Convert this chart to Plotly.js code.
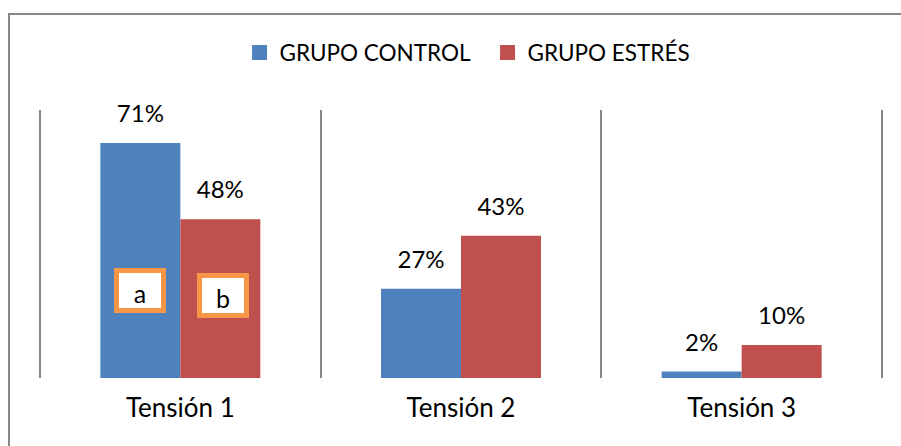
<!DOCTYPE html>
<html>
<head>
<meta charset="utf-8">
<script src="https://cdn.plot.ly/plotly-3.0.1.min.js"></script>
<style>
  html, body { margin: 0; padding: 0; background: #fff; overflow: hidden; width: 901px; height: 446px; }
  #frame { position: absolute; left: 8px; top: 13px; width: 1000px; height: 600px; border: 2px solid #878787; box-sizing: border-box; }
  #chart { position: absolute; left: 0; top: 0; width: 901px; height: 446px; }
</style>
</head>
<body>
<div id="frame"></div>
<div id="chart"></div>
<script>
const categories = ['Tensión 1', 'Tensión 2', 'Tensión 3'];
const seriesNames = ['GRUPO CONTROL', 'GRUPO ESTRÉS'];
const controlValues = [71, 27, 2];
const stressValues = [48, 43, 10];
const seriesColors = ['#4F81BD', '#C0504D'];
const boxLabels = ['a', 'b'];

const FONT = 'Lato, "Noto Sans", sans-serif';
const GAP = 0.43;

const seriesValues = [controlValues, stressValues];
const traces = [];
seriesValues.forEach((vals, i) => {
  traces.push({
    type: 'bar', name: seriesNames[i], x: categories, y: vals,
    marker: { color: seriesColors[i] }, hoverinfo: 'skip', showlegend: false
  });
});
seriesValues.forEach((vals, i) => {
  traces.push({
    type: 'scatter', mode: 'markers+text', x: categories, y: vals,
    text: vals.map(v => v + '%'), textposition: 'top center',
    textfont: { family: FONT, size: 24, color: '#000' },
    marker: { size: 22, opacity: 0, color: seriesColors[i] },
    showlegend: false, hoverinfo: 'skip', cliponaxis: false
  });
});
// legend entries (square swatches) on a hidden separate axis pair
seriesNames.forEach((name, i) => {
  traces.push({
    type: 'scatter', mode: 'markers', name: name, x: [null], y: [null],
    xaxis: 'x2', yaxis: 'y2',
    marker: { symbol: 'square', size: 15, color: seriesColors[i] },
    showlegend: true, hoverinfo: 'skip'
  });
});

const annotations = [
  { text: boxLabels[0], xref: 'paper', yref: 'paper', x: 0.119, y: 0.328 },
  { text: boxLabels[1], xref: 'paper', yref: 'paper', x: 0.217, y: 0.306 }
].map(a => Object.assign(a, {
  showarrow: false, xanchor: 'center', yanchor: 'middle',
  width: 42, height: 35, valign: 'bottom', align: 'center',
  bgcolor: '#ffffff', bordercolor: '#F79646', borderwidth: 5, borderpad: 0,
  font: { family: FONT, size: 25, color: '#000' }
}));

const hiddenAxis = { visible: false, showgrid: false, zeroline: false, fixedrange: true };

const layout = {
  width: 901, height: 446,
  margin: { l: 40, r: 19, t: 110, b: 68, pad: 0 },
  paper_bgcolor: 'rgba(0,0,0,0)', plot_bgcolor: 'rgba(0,0,0,0)',
  barmode: 'group', bargap: GAP, bargroupgap: 0,
  scattermode: 'group', scattergap: GAP,
  font: { family: FONT, size: 23, color: '#000' },
  showlegend: true,
  legend: {
    orientation: 'h', x: 0.237, xanchor: 'left', y: 1.213, yanchor: 'middle',
    font: { family: FONT, size: 22.5, color: '#000' }, bgcolor: 'rgba(0,0,0,0)',
    itemwidth: 30, entrywidth: 203, entrywidthmode: 'pixels'
  },
  xaxis: {
    type: 'category', range: [-0.5, 2.5], tickson: 'boundaries',
    showgrid: true, gridcolor: '#878787', gridwidth: 2,
    showline: false, zeroline: false, ticks: '', ticklabelstandoff: 12,
    tickfont: { family: FONT, size: 26, color: '#000' }, fixedrange: true
  },
  yaxis: {
    range: [0, 81], showgrid: false, zeroline: false, showline: false,
    showticklabels: false, ticks: '', fixedrange: true
  },
  xaxis2: Object.assign({ overlaying: 'x', range: [0, 1] }, hiddenAxis),
  yaxis2: Object.assign({ overlaying: 'y', range: [0, 1] }, hiddenAxis),
  shapes: [0, 1].map(px => ({
    type: 'line', xref: 'paper', yref: 'paper', x0: px, x1: px, y0: 0, y1: 1,
    line: { color: '#878787', width: 2 }, layer: 'below'
  })),
  annotations: annotations
};

Plotly.newPlot('chart', traces, layout, { displayModeBar: false, staticPlot: true });
</script>
</body>
</html>
